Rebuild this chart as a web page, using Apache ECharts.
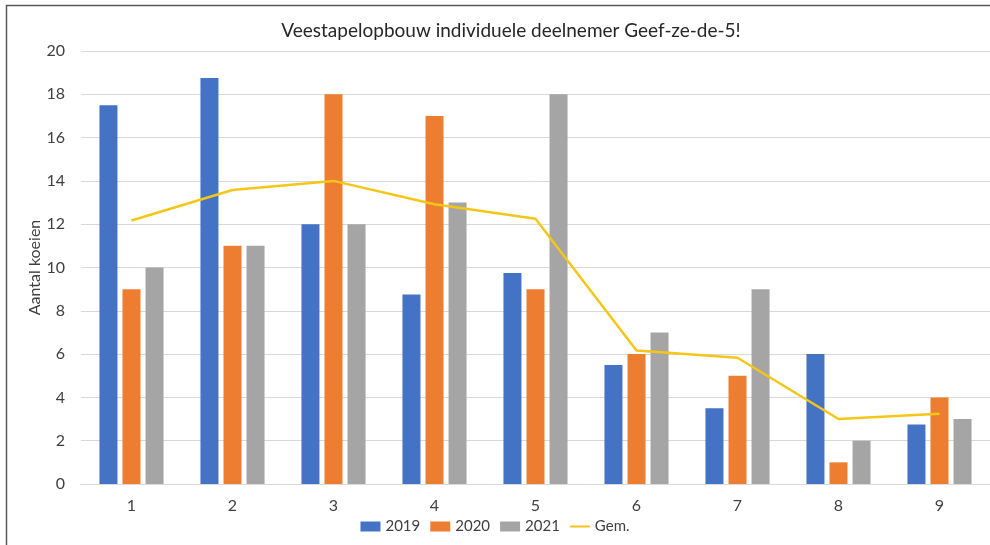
<!DOCTYPE html>
<html>
<head>
<meta charset="utf-8">
<script src="https://cdn.jsdelivr.net/npm/echarts@6/dist/echarts.min.js"></script>
<style>
  html, body { margin: 0; padding: 0; background: #fff; }
  #chart { width: 990px; height: 545px; }
</style>
</head>
<body>
<div id="chart"></div>
<script>
const categories = ['1', '2', '3', '4', '5', '6', '7', '8', '9']
const values2019 = [17.5, 18.75, 12, 8.75, 9.75, 5.5, 3.5, 6, 2.75]
const values2020 = [9, 11, 18, 17, 9, 6, 5, 1, 4]
const values2021 = [10, 11, 12, 13, 18, 7, 9, 2, 3]
const valuesGem = [12.17, 13.58, 14, 12.92, 12.25, 6.17, 5.83, 3, 3.25]

const font = 'Lato, "Open Sans", sans-serif'
const labelColor = '#404040'
const gemColor = '#f5c518'

function barSeries(name, data, color) {
  return {
    name,
    type: 'bar',
    data,
    barWidth: 18,
    barGap: '28%',
    itemStyle: { color },
  }
}

const chart = echarts.init(document.getElementById('chart'))

chart.setOption({
  animation: false,
  textStyle: { fontFamily: font },
  title: {
    text: 'Veestapelopbouw individuele deelnemer Geef-ze-de-5!',
    left: 506,
    textAlign: 'center',
    top: 16,
    textStyle: { fontSize: 19, fontWeight: 'normal', color: '#262626', fontFamily: font },
  },
  graphic: [{
    type: 'rect',
    shape: { x: 6.5, y: 5.5, width: 1100, height: 700 },
    style: { fill: 'none', stroke: '#5a5a5a', lineWidth: 1.5 },
    silent: true,
  }],
  legend: {
    bottom: 6,
    left: 'center',
    itemWidth: 20,
    itemHeight: 10,
    itemGap: 10,
    textStyle: { fontSize: 15, color: labelColor, fontFamily: font },
    data: [
      { name: '2019', icon: 'rect' },
      { name: '2020', icon: 'rect' },
      { name: '2021', icon: 'rect' },
      { name: 'Gem.', icon: 'path://M0,0 M20,10 M0,4 L20,4 L20,6 L0,6 Z', itemStyle: { color: gemColor } },
    ],
  },
  grid: {
    left: 81,
    right: 0,
    top: 51,
    bottom: 61,
  },
  xAxis: {
    type: 'category',
    data: categories,
    axisLine: { show: true, lineStyle: { color: '#d9d9d9', width: 1 } },
    axisTick: { show: false },
    axisLabel: { fontSize: 16, color: labelColor, margin: 14 },
  },
  yAxis: {
    type: 'value',
    min: 0,
    max: 20,
    interval: 2,
    name: 'Aantal koeien',
    nameLocation: 'middle',
    nameGap: 38,
    nameMoveOverlap: false,
    nameRotate: 90,
    nameTextStyle: { fontSize: 16, color: labelColor },
    axisLine: { show: false },
    axisTick: { show: false },
    axisLabel: { fontSize: 16, color: labelColor, margin: 16 },
    splitLine: { lineStyle: { color: '#d9d9d9', width: 1 } },
  },
  series: [
    barSeries('2019', values2019, '#4472c4'),
    barSeries('2020', values2020, '#ed7d31'),
    barSeries('2021', values2021, '#a5a5a5'),
    {
      name: 'Gem.',
      type: 'line',
      data: valuesGem,
      symbol: 'none',
      lineStyle: { color: gemColor, width: 2.5 },
      itemStyle: { color: gemColor },
    },
  ],
})
</script>
</body>
</html>
